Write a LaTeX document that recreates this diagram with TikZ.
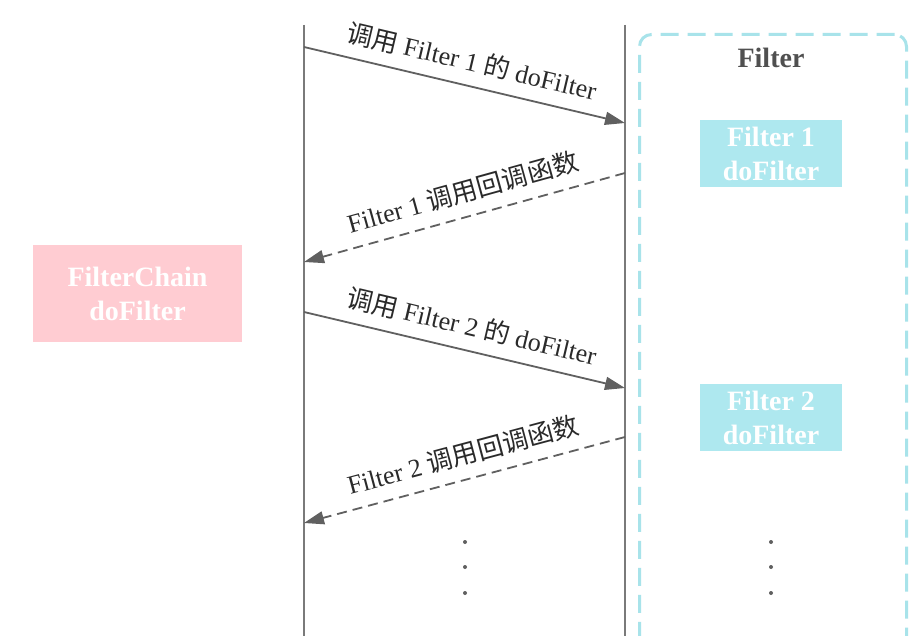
\documentclass[tikz,border=0pt]{standalone}
\usepackage{fontspec}
\setmainfont{Liberation Serif}
\newfontfamily\cjk{Noto Sans CJK SC}
\usetikzlibrary{arrows.meta}
\definecolor{linegray}{HTML}{7A7A7A}
\definecolor{arrowgray}{HTML}{606060}
\definecolor{cyanline}{HTML}{A8E3EA}
\definecolor{cyanfill}{HTML}{AEE8EF}
\definecolor{pinkfill}{HTML}{FFCCD2}
\definecolor{titlegray}{HTML}{505050}
\definecolor{labelgray}{HTML}{2A2A2A}
\begin{document}
\begin{tikzpicture}[x=1pt,y=-1pt,
  lifeline/.style={draw=linegray, line width=1.8pt},
  call/.style={draw=arrowgray, line width=1.8pt, -{Triangle[length=20pt,width=13pt]}},
  callback/.style={call, dash pattern=on 10pt off 6pt},
  box/.style={inner sep=0pt, text=white, font=\bfseries\fontsize{28}{34}\selectfont, align=center},
  lbl/.style={sloped, above=12pt, inner sep=0pt, text=labelgray, font=\fontsize{26}{30}\selectfont},
  dotmark/.style={circle, fill=arrowgray, inner sep=0pt, minimum size=4pt}
]
\useasboundingbox (0,0) rectangle (923,636);
\fill[white] (0,0) rectangle (923,636);

% Filter zone
\node[draw=cyanline, line width=3pt, dash pattern=on 18pt off 9pt, rounded corners=12pt,
      minimum width=267pt, minimum height=660pt, anchor=north west, inner sep=0pt] (zone) at (638,33) {};
\node[font=\bfseries\fontsize{28}{34}\selectfont, text=titlegray] (ftitle) at (771,58) {Filter};

\node[box, fill=cyanfill, minimum width=142pt, minimum height=67pt] (f1) at (771,153.5) {Filter 1\\doFilter};
\node[box, fill=cyanfill, minimum width=142pt, minimum height=67pt] (f2) at (771,417.5) {Filter 2\\doFilter};

\node[box, fill=pinkfill, minimum width=209pt, minimum height=97pt] (chain) at (137.5,293.5) {FilterChain\\doFilter};

% lifelines
\coordinate (ltop) at (304,25);
\coordinate (lbot) at (304,640);
\coordinate (rtop) at (625,25);
\coordinate (rbot) at (625,640);
\draw[lifeline] (ltop) -- (lbot);
\draw[lifeline] (rtop) -- (rbot);

% arrows
\coordinate (a1s) at (304,47);
\coordinate (a1e) at (625,123);
\coordinate (a2s) at (625,173);
\coordinate (a2e) at (304,262);
\coordinate (a3s) at (304,312);
\coordinate (a3e) at (625,388);
\coordinate (a4s) at (625,437);
\coordinate (a4e) at (304,523);

\draw[call] (a1s) -- node[lbl, pos=0.505] (l1) {{\cjk 调用} Filter 1 {\cjk 的} doFilter} (a1e);
\draw[callback] (a2s) -- node[lbl, pos=0.485] (l2) {Filter 1 {\cjk 调用回调函数}} (a2e);
\draw[call] (a3s) -- node[lbl, pos=0.505] (l3) {{\cjk 调用} Filter 2 {\cjk 的} doFilter} (a3e);
\draw[callback] (a4s) -- node[lbl, pos=0.485] (l4) {Filter 2 {\cjk 调用回调函数}} (a4e);

% dots
\node[dotmark] (d1) at (465,542) {};
\node[dotmark] (d2) at (465,567) {};
\node[dotmark] (d3) at (465,593) {};
\node[dotmark] (d4) at (771,542) {};
\node[dotmark] (d5) at (771,567) {};
\node[dotmark] (d6) at (771,593) {};
\end{tikzpicture}
\end{document}
